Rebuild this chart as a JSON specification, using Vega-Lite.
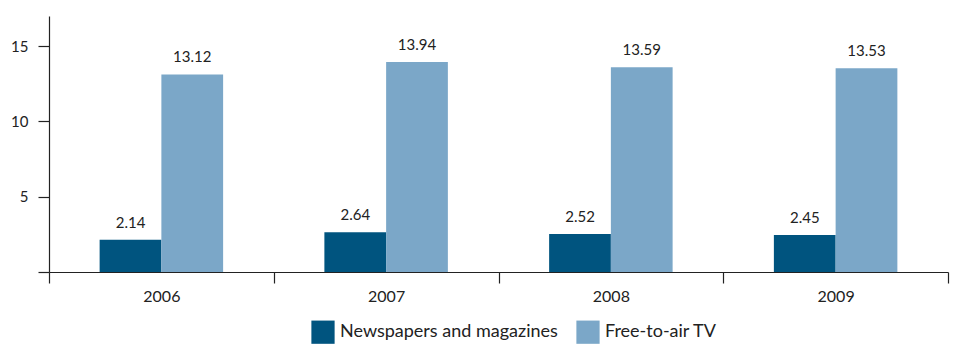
{
  "$schema": "https://vega.github.io/schema/vega-lite/v6.json",
  "autosize": {"type": "none"},
  "width": 899,
  "height": 256,
  "padding": {"left": 49, "top": 16, "right": 13, "bottom": 72},
  "background": "white",
  "config": {
    "view": {"stroke": null},
    "font": "Lato",
    "axis": {"labelFont": "Lato", "labelColor": "#222222", "domainColor": "#222222", "tickColor": "#222222", "grid": false}
  },
  "data": {
    "values": [
      {"year": "2006", "series": "Newspapers and magazines", "value": 2.14},
      {"year": "2006", "series": "Free-to-air TV", "value": 13.12},
      {"year": "2007", "series": "Newspapers and magazines", "value": 2.64},
      {"year": "2007", "series": "Free-to-air TV", "value": 13.94},
      {"year": "2008", "series": "Newspapers and magazines", "value": 2.52},
      {"year": "2008", "series": "Free-to-air TV", "value": 13.59},
      {"year": "2009", "series": "Newspapers and magazines", "value": 2.45},
      {"year": "2009", "series": "Free-to-air TV", "value": 13.53}
    ]
  },
  "encoding": {
    "x": {
      "field": "year", "type": "nominal", "title": null,
      "scale": {"paddingInner": 0, "paddingOuter": 0},
      "axis": {"labelAngle": 0, "tickBand": "extent", "tickSize": 11, "labelFontSize": 16, "labelPadding": 5, "domainWidth": 1.2, "tickWidth": 1.2}
    },
    "xOffset": {
      "field": "series", "type": "nominal",
      "sort": ["Newspapers and magazines", "Free-to-air TV"],
      "scale": {"paddingInner": 0, "paddingOuter": 0.82}
    },
    "y": {
      "field": "value", "type": "quantitative", "title": null,
      "scale": {"domain": [0, 17], "nice": false},
      "axis": {"values": [0, 5, 10, 15], "labelExpr": "datum.value == 0 ? '' : datum.label", "tickSize": 11, "labelFontSize": 15, "labelPadding": 10, "domainWidth": 1.2, "tickWidth": 1.2}
    }
  },
  "layer": [
    {
      "mark": {"type": "bar"},
      "encoding": {
        "color": {
          "field": "series", "type": "nominal",
          "sort": ["Newspapers and magazines", "Free-to-air TV"],
          "scale": {"domain": ["Newspapers and magazines", "Free-to-air TV"], "range": ["#00547f", "#7ba7c8"]},
          "legend": {
            "title": null, "orient": "none", "direction": "horizontal",
            "legendX": 262, "legendY": 304,
            "symbolType": "square", "symbolSize": 540, "symbolStrokeWidth": 0,
            "labelFontSize": 18, "labelColor": "#222222", "labelFont": "Lato", "labelLimit": 400,
            "labelOffset": 5, "columnPadding": 18
          }
        }
      }
    },
    {
      "mark": {"type": "text", "baseline": "bottom", "dy": -9, "fontSize": 15, "color": "#222222"},
      "encoding": {
        "text": {"field": "value", "type": "quantitative", "format": ".2f"}
      }
    }
  ]
}
